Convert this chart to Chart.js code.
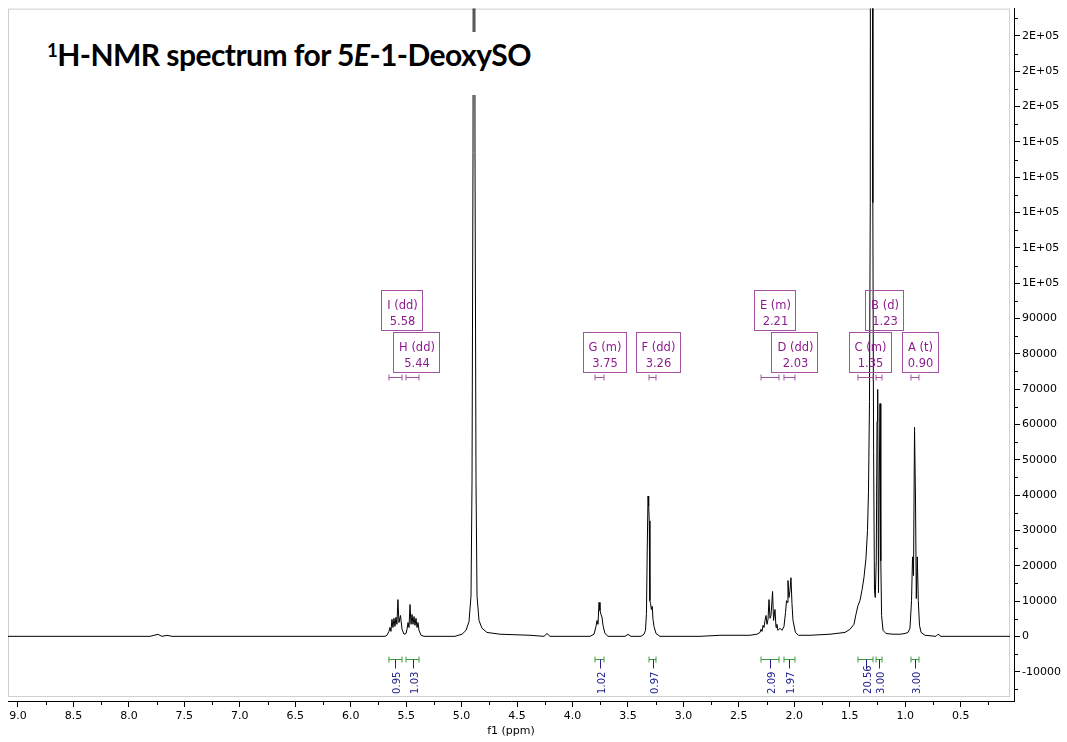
<!DOCTYPE html>
<html>
<head>
<meta charset="utf-8">
<title>1H-NMR spectrum</title>
<script src="https://cdn.jsdelivr.net/npm/chart.js@4.4.1/dist/chart.umd.min.js"></script>
<style>
  html, body { margin: 0; padding: 0; background: #fff; }
  #wrap { position: relative; width: 1067px; height: 742px; }
  #title { position: absolute; left: 32px; top: 32px; width: 505px; height: 63px; background: #fff; }
  #title span { position: absolute; left: 15px; top: 7px; font: bold 30px Lato, sans-serif; letter-spacing: -0.55px; line-height: 30px; white-space: nowrap; color: #000; }
  #title sup { font-size: 0.62em; position: relative; top: -0.5em; vertical-align: baseline; }
</style>
</head>
<body>
<div id="wrap">
  <canvas id="nmrChart" width="1067" height="742"></canvas>
  <div id="title"><span><sup>1</sup>H-NMR spectrum for 5<i>E</i>-1-DeoxySO</span></div>
</div>
<script>
// spectrum trace (ppm, intensity)
const ppm = [9.090, 7.810, 7.738, 7.702, 7.656, 7.611, 5.691, 5.673, 5.655, 5.646, 5.637, 5.628, 5.619, 5.610, 5.601, 5.592, 5.583, 5.574, 5.565, 5.551, 5.537, 5.519, 5.501, 5.492, 5.483, 5.474, 5.465, 5.456, 5.447, 5.438, 5.429, 5.420, 5.411, 5.402, 5.393, 5.384, 5.366, 5.339,
  5.060, 4.996, 4.960, 4.933, 4.915, 4.906, 4.897, 4.888, 4.879, 4.870, 4.861, 4.843, 4.816, 4.771, 4.654, 4.383, 4.257, 4.230, 4.203,
  3.842, 3.806, 3.788, 3.779, 3.770, 3.761, 3.752, 3.743, 3.734, 3.725, 3.707, 3.680, 3.527, 3.500, 3.473,
  3.382, 3.355, 3.342, 3.333, 3.325, 3.319, 3.313, 3.308, 3.302, 3.296, 3.289, 3.281, 3.274, 3.265, 3.247, 3.211, 2.850, 2.670, 2.400,
  2.336, 2.309, 2.300, 2.291, 2.282, 2.273, 2.264, 2.255, 2.246, 2.237, 2.228, 2.219, 2.210, 2.196, 2.187, 2.174, 2.165, 2.157, 2.148, 2.129, 2.111,
  2.093, 2.079, 2.070, 2.063, 2.057, 2.048, 2.039, 2.030, 2.021, 2.012, 1.990, 1.963, 1.858,
  1.678, 1.543, 1.498, 1.462, 1.444, 1.426, 1.408, 1.390, 1.372, 1.354, 1.340, 1.331, 1.322, 1.315, 1.308, 1.299, 1.292, 1.285, 1.277, 1.270,
  1.261, 1.254, 1.248, 1.241, 1.234, 1.227, 1.220, 1.213, 1.200, 1.173, 1.110, 1.047, 1.002,
  0.975, 0.957, 0.943, 0.934, 0.925, 0.916, 0.907, 0.900, 0.891, 0.882, 0.871, 0.857, 0.821, 0.722, 0.704, 0.677, 0.055];
const intensity = [0, 0, 560, 0, 280, 0, 0, 300, 1400, 2500, 1400, 4800, 2500, 5100, 2800, 5400, 3400, 10400, 3900, 5900, 2000, 600, 800, 2000, 3900, 2500, 9000, 3400, 6200, 3400, 5600, 3100, 5100, 2500, 3900, 1700, 300, 0,
  0, 600, 1700, 4200, 11500, 43900, 136900, 400000, 136900, 43900, 11500, 4500, 2300, 1100, 600, 300, 0, 800, 0,
  0, 600, 2800, 4500, 3400, 9600, 7300, 6200, 5400, 3100, 800, 0, 0, 560, 0,
  0, 600, 1700, 6500, 27000, 39700, 36900, 32700, 10100, 9300, 7600, 8500, 4800, 2800, 800, 0, 0, 300, 300,
  600, 1100, 2000, 1400, 3100, 2500, 4500, 5900, 3400, 4800, 10400, 5100, 5900, 12700, 4500, 7600, 2500, 3400, 1700, 2300, 1700,
  2800, 6800, 10100, 9600, 15800, 11000, 13000, 16600, 9300, 4500, 1100, 300, 300,
  600, 1100, 2000, 3400, 6200, 8700, 10100, 13000, 16600, 22000, 29900, 41100, 66500, 122800, 600000, 600000, 122800, 52400, 13000, 11000,
  21400, 60800, 69900, 12400, 43900, 65900, 21400, 5900, 1700, 800, 600, 600, 800,
  1100, 2300, 10100, 22500, 17200, 59200, 38300, 10700, 22500, 10100, 3100, 1100, 300, 0, 600, 0, 0];

// axis ticks
const xTicks = [0.5, 1.0, 1.5, 2.0, 2.5, 3.0, 3.5, 4.0, 4.5, 5.0, 5.5, 6.0, 6.5, 7.0, 7.5, 8.0, 8.5, 9.0];
const yTicks = [-10000, 0, 10000, 20000, 30000, 40000, 50000, 60000, 70000, 80000, 90000,
  100000, 110000, 120000, 130000, 140000, 150000, 160000, 170000];

// multiplet annotations
const multName = ['I (dd)', 'H (dd)', 'G (m)', 'F (dd)', 'E (m)', 'D (dd)', 'C (m)', 'B (d)', 'A (t)'];
const multShift = ['5.58', '5.44', '3.75', '3.26', '2.21', '2.03', '1.35', '1.23', '0.90'];
const multBoxAt = [5.542, 5.411, 3.716, 3.234, 2.179, 1.998, 1.322, 1.191, 0.871];
const multRow = [1, 0, 0, 0, 1, 0, 0, 1, 0];
const rangeFrom = [5.655, 5.501, 3.797, 3.310, 2.300, 2.093, 1.426, 1.263, 0.948];
const rangeTo = [5.537, 5.384, 3.716, 3.247, 2.138, 1.994, 1.290, 1.209, 0.876];
const integrals = ['0.95', '1.03', '1.02', '0.97', '2.09', '1.97', '20.56', '3.00', '3.00'];

const X_MIN = 0.019, X_MAX = 9.09;
const Y_MIN = -18310, Y_MAX = 177746;

// vertical placement of the annotations, in intensity units
const ROW_TOP = [86200, 98000];
const RANGE_Y = 73500;
const INTEGRAL_Y = -6500;
const INTEGRAL_TEXT_Y = -16300;

const purple = '#8e1c8e', purpleLine = '#a451a4', green = '#3d9c3d', blue = '#23238f';

function yLabel(v) {
  if (Math.abs(v) >= 100000) {
    return v.toExponential(0).toUpperCase().replace(/E\+(\d)$/, 'E+0$1');
  }
  return String(v);
}

function tickPair(ctx, x1, x2, y) {
  ctx.moveTo(x1, y); ctx.lineTo(x2, y);
  ctx.moveTo(x1, y - 3); ctx.lineTo(x1, y + 3);
  ctx.moveTo(x2, y - 3); ctx.lineTo(x2, y + 3);
}

const decor = {
  id: 'decor',
  beforeDatasetsDraw(chart) {
    const { ctx, chartArea: a } = chart;
    ctx.save();
    ctx.strokeStyle = '#cfcfcf';
    ctx.lineWidth = 1;
    ctx.strokeRect(a.left + 0.5, a.top + 0.5, a.right - a.left - 5, a.bottom - a.top - 5);
    ctx.restore();
  },
  afterDatasetsDraw(chart) {
    const { ctx } = chart;
    const xs = chart.scales.x, ys = chart.scales.y;
    ctx.save();
    ctx.lineWidth = 1;

    ctx.font = '11.5px "DejaVu Sans", sans-serif';
    ctx.textAlign = 'center';
    ctx.textBaseline = 'alphabetic';
    multName.forEach((name, i) => {
      // multiplet box
      const w = Math.max(ctx.measureText(name).width, ctx.measureText(multShift[i]).width) + 10;
      const cx = xs.getPixelForValue(multBoxAt[i]);
      const top = Math.round(ys.getPixelForValue(ROW_TOP[multRow[i]]));
      const left = Math.round(cx - w / 2);
      ctx.strokeStyle = purpleLine;
      ctx.strokeRect(left + 0.5, top + 0.5, Math.round(w), 40);
      ctx.fillStyle = purple;
      ctx.fillText(name, cx + 1, top + 19);
      ctx.fillText(multShift[i], cx + 1, top + 35);

      // range bracket under the boxes
      const x1 = xs.getPixelForValue(rangeFrom[i]), x2 = xs.getPixelForValue(rangeTo[i]);
      ctx.beginPath();
      tickPair(ctx, x1, x2, Math.round(ys.getPixelForValue(RANGE_Y)) + 0.5);
      ctx.stroke();

      // integral bracket and value
      const gy = Math.round(ys.getPixelForValue(INTEGRAL_Y)) + 0.5;
      ctx.strokeStyle = green;
      ctx.beginPath();
      tickPair(ctx, x1, x2, gy);
      ctx.stroke();
      const mx = Math.round((x1 + x2) / 2) + 0.5;
      ctx.strokeStyle = blue;
      ctx.beginPath();
      ctx.moveTo(mx, gy); ctx.lineTo(mx, gy + 9);
      ctx.stroke();
      ctx.save();
      ctx.translate(mx + 4, ys.getPixelForValue(INTEGRAL_TEXT_Y));
      ctx.rotate(-Math.PI / 2);
      ctx.font = '10px "DejaVu Sans", sans-serif';
      ctx.textAlign = 'left';
      ctx.fillStyle = blue;
      ctx.fillText(integrals[i], 0, 0);
      ctx.restore();
    });
    ctx.restore();
  },
  afterDraw(chart) {
    // minor ticks halfway between the labelled ones
    const { ctx, chartArea: a } = chart;
    const xs = chart.scales.x, ys = chart.scales.y;
    ctx.save();
    ctx.strokeStyle = '#000';
    ctx.lineWidth = 1;
    ctx.beginPath();
    [xTicks[0] - 0.25, ...xTicks.map(v => v + 0.25)].forEach(v => {
      if (v > X_MIN && v < X_MAX) {
        const px = Math.round(xs.getPixelForValue(v)) + 0.5;
        ctx.moveTo(px, a.bottom); ctx.lineTo(px, a.bottom + 4);
      }
    });
    [yTicks[0] - 5000, ...yTicks.map(v => v + 5000)].forEach(v => {
      if (v > Y_MIN && v < Y_MAX) {
        const py = Math.round(ys.getPixelForValue(v)) + 0.5;
        ctx.moveTo(a.right, py); ctx.lineTo(a.right + 4, py);
      }
    });
    ctx.stroke();
    ctx.restore();
  }
};

new Chart(document.getElementById('nmrChart'), {
  type: 'line',
  data: {
    datasets: [{
      label: '1H NMR',
      data: ppm.map((p, i) => ({ x: p, y: intensity[i] })),
      borderColor: '#000',
      borderWidth: 1,
      pointRadius: 0,
      tension: 0,
      fill: false
    }]
  },
  options: {
    responsive: false,
    animation: false,
    events: [],
    layout: { padding: { left: 8, top: 5, right: 0, bottom: 0 } },
    plugins: {
      legend: { display: false },
      tooltip: { enabled: false }
    },
    scales: {
      x: {
        type: 'linear',
        reverse: true,
        min: X_MIN,
        max: X_MAX,
        afterFit: s => { s.height = 41; },
        afterBuildTicks: s => { s.ticks = xTicks.map(v => ({ value: v })); },
        grid: { drawOnChartArea: false, drawTicks: true, tickLength: 6, color: '#000' },
        border: { display: true, color: '#000' },
        ticks: {
          autoSkip: false,
          maxRotation: 0,
          padding: 3,
          color: '#000',
          font: { family: 'DejaVu Sans', size: 11 },
          callback: v => v.toFixed(1)
        },
        title: {
          display: true,
          text: 'f1 (ppm)',
          color: '#000',
          font: { family: 'DejaVu Sans', size: 11 },
          padding: { top: 0, bottom: 4 }
        }
      },
      y: {
        type: 'linear',
        position: 'right',
        min: Y_MIN,
        max: Y_MAX,
        afterFit: s => { s.width = 53; },
        afterBuildTicks: s => { s.ticks = yTicks.map(v => ({ value: v })); },
        grid: { drawOnChartArea: false, drawTicks: true, tickLength: 6, color: '#000' },
        border: { display: true, color: '#000' },
        ticks: {
          autoSkip: false,
          padding: 2,
          color: '#000',
          font: { family: 'DejaVu Sans', size: 11 },
          callback: v => yLabel(v)
        }
      }
    }
  },
  plugins: [decor]
});
</script>
</body>
</html>
